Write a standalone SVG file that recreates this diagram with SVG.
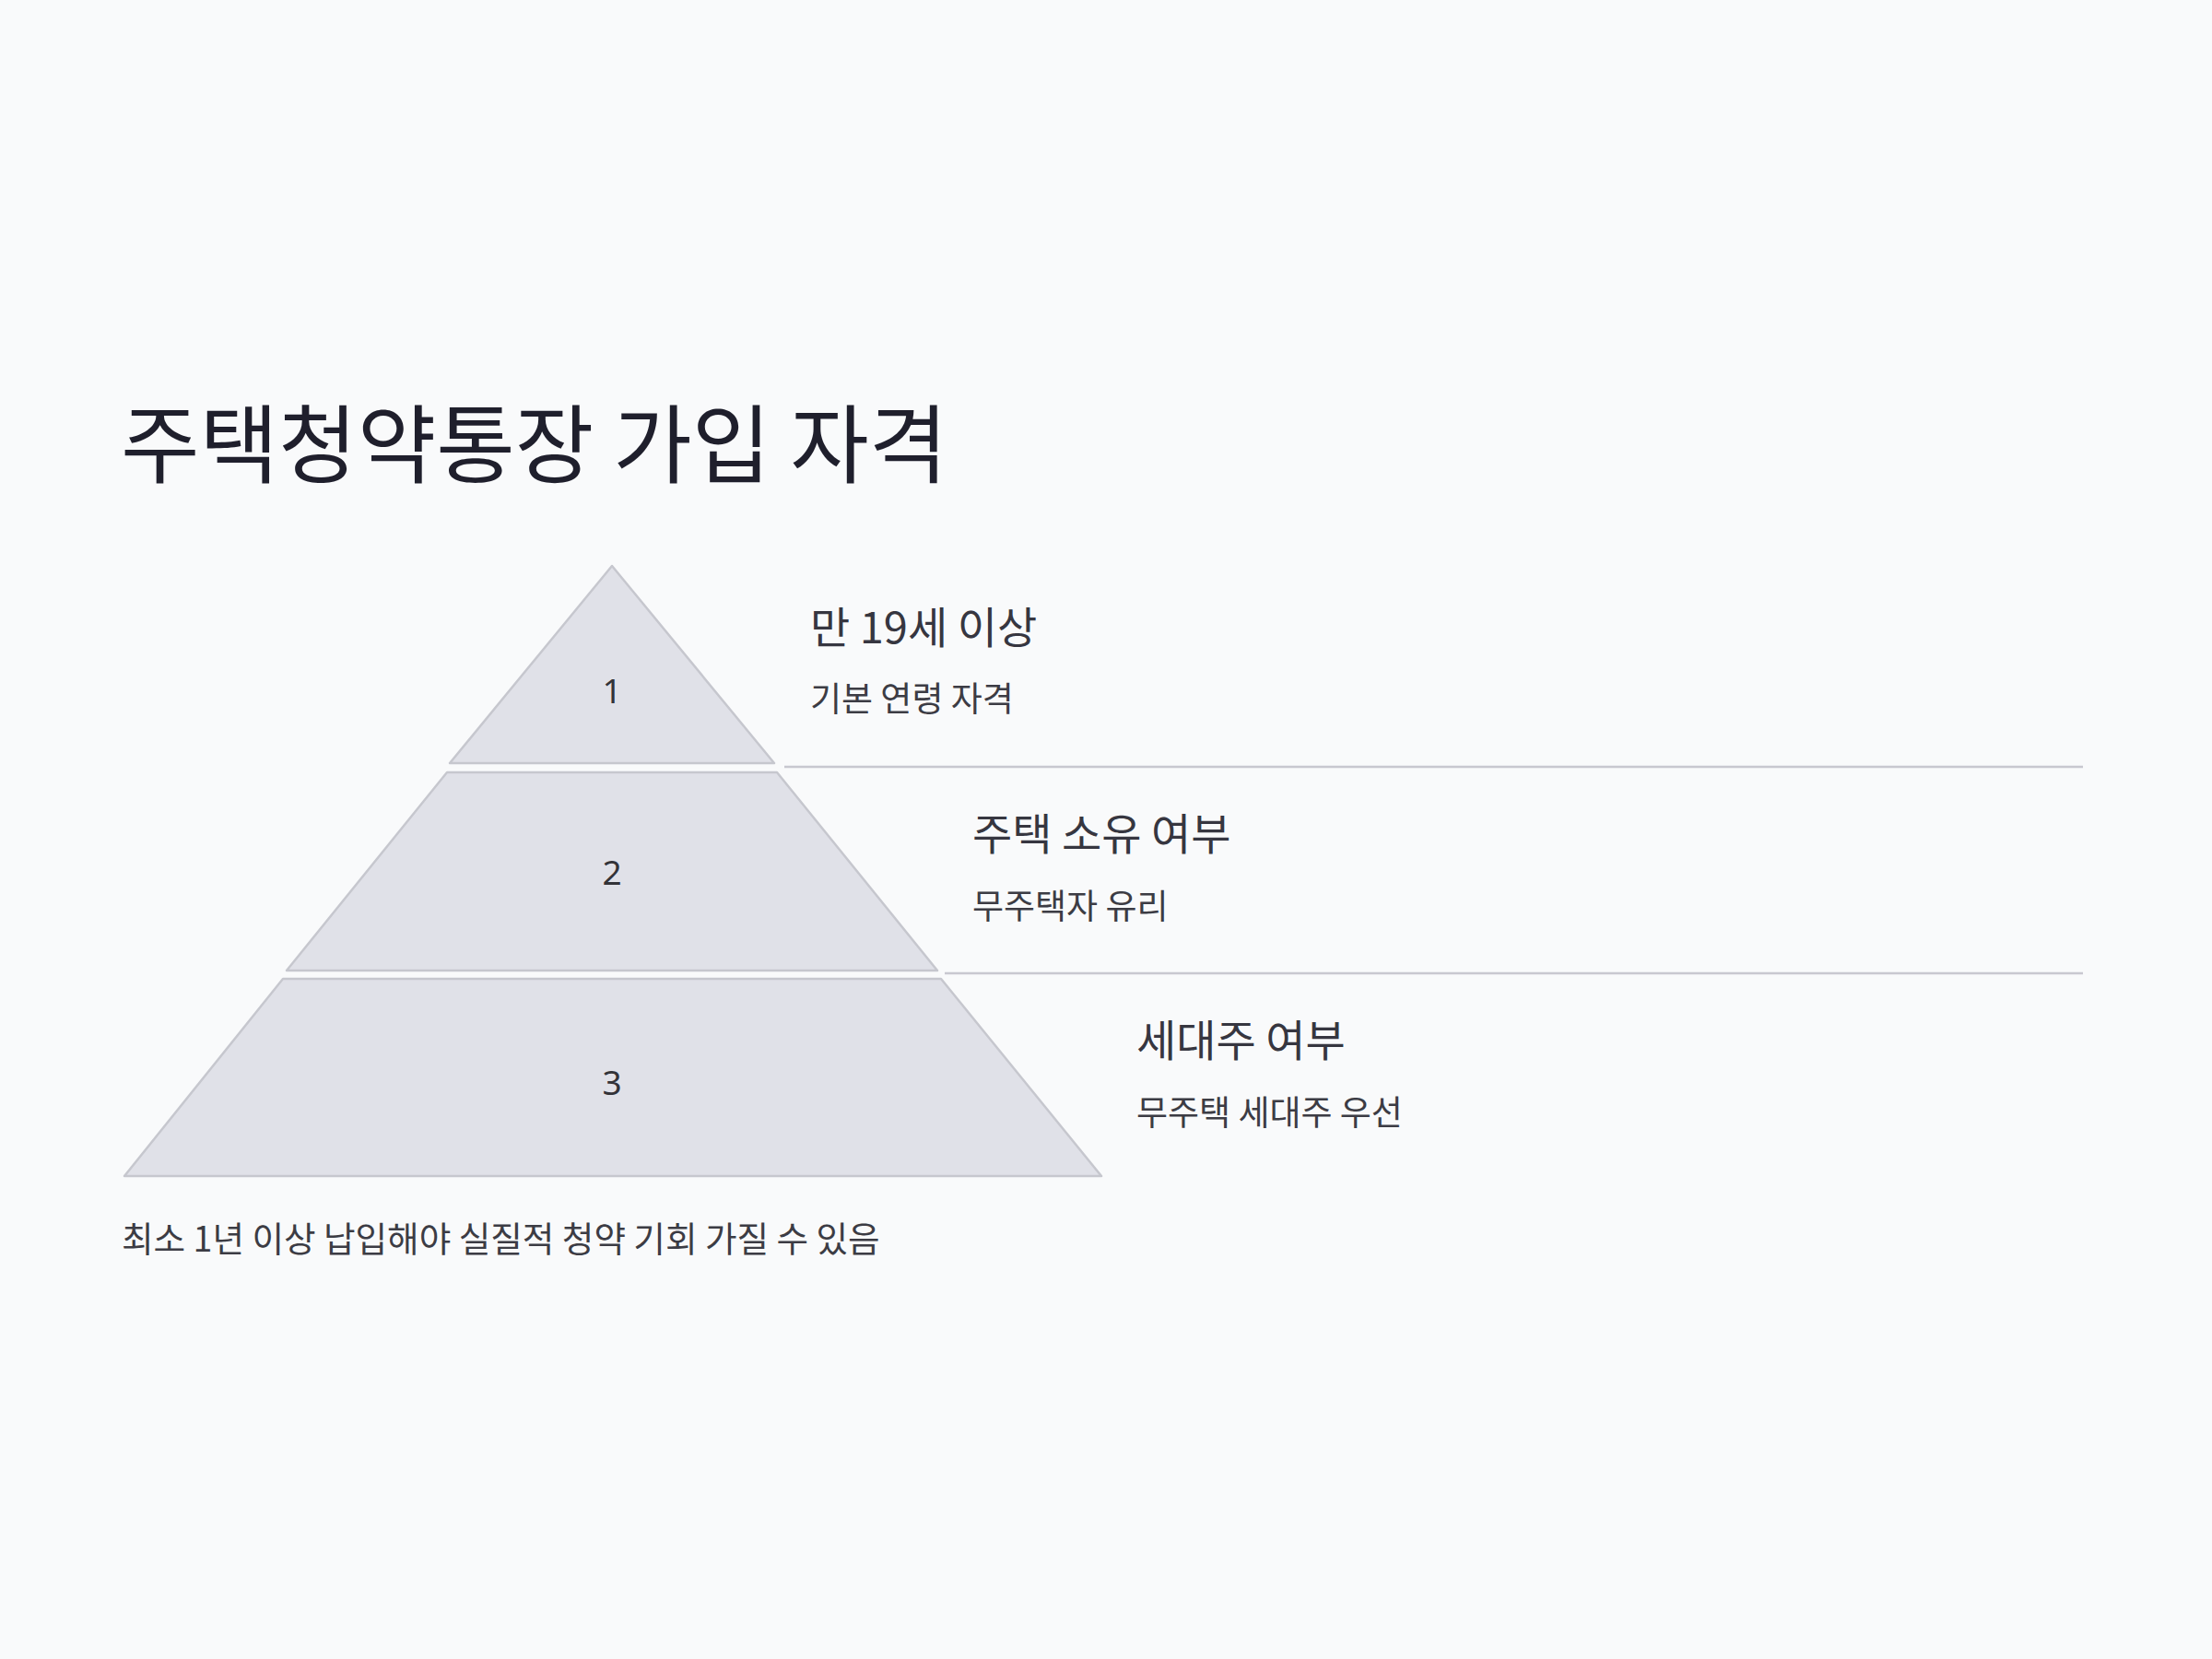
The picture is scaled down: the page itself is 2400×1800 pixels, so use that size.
<svg xmlns="http://www.w3.org/2000/svg" width="2400" height="1800" viewBox="0 0 2400 1800">
<style>
.bg{fill:#f9fafb}
.tier{fill:#e0e1e8;stroke:#c6c7ce;stroke-width:2.5;stroke-linejoin:round}
.num{font-family:"Noto Sans","Noto Sans CJK KR",sans-serif;font-size:37px;fill:#333338;text-anchor:middle}
.title{font-family:"Noto Sans CJK KR","Noto Sans",sans-serif;font-size:93px;fill:#1f1f2c}
.head{font-family:"Noto Sans CJK KR","Noto Sans",sans-serif;font-size:47px;fill:#363640}
.desc{font-family:"Noto Sans CJK KR","Noto Sans",sans-serif;font-size:37px;fill:#3c3c44}
.foot{font-family:"Noto Sans CJK KR","Noto Sans",sans-serif;font-size:37.6px;fill:#3c3c44}
.rule{stroke:#c8c8d0;stroke-width:2.5}
</style>
<rect class="bg" x="0" y="0" width="2400" height="1800"/>
<text id="title" class="title" x="131" y="517">주택청약통장 가입 자격</text>
<g id="connectors">
<line class="rule" x1="851" y1="832" x2="2260" y2="832"/>
<line class="rule" x1="1025" y1="1056" x2="2260" y2="1056"/>
</g>
<g id="tier1">
<polygon class="tier" points="664,614 840,828 488,828"/>
<text class="num" x="664" y="763">1</text>
</g>
<g id="tier2">
<polygon class="tier" points="485,838 843,838 1017,1053 311,1053"/>
<text class="num" x="664" y="960">2</text>
</g>
<g id="tier3">
<polygon class="tier" points="307,1062 1021,1062 1195,1276 135,1276"/>
<text class="num" x="664" y="1188">3</text>
</g>
<g id="label1">
<text class="head" x="879" y="698">만 19세 이상</text>
<text class="desc" x="879" y="772">기본 연령 자격</text>
</g>
<g id="label2">
<text class="head" x="1055" y="922">주택 소유 여부</text>
<text class="desc" x="1055" y="997">무주택자 유리</text>
</g>
<g id="label3">
<text class="head" x="1233" y="1146">세대주 여부</text>
<text class="desc" x="1233" y="1221">무주택 세대주 우선</text>
</g>
<text id="footnote" class="foot" x="132" y="1358">최소 1년 이상 납입해야 실질적 청약 기회 가질 수 있음</text>
</svg>
